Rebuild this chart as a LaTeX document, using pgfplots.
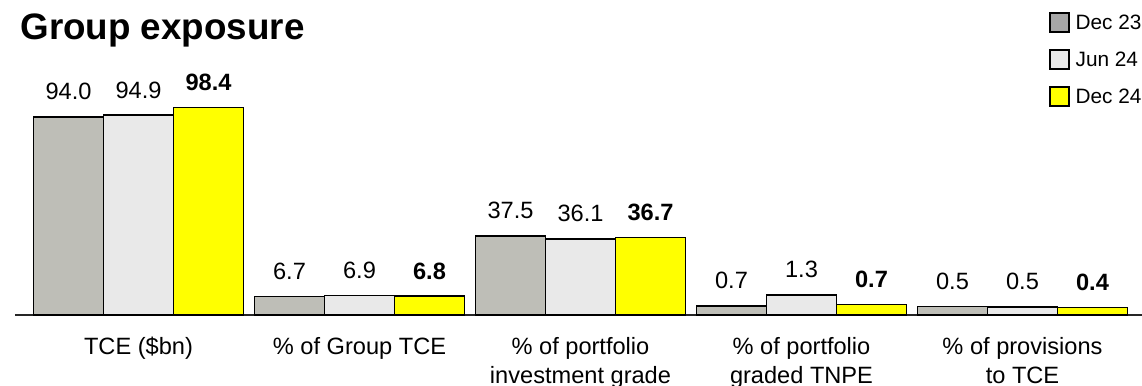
\documentclass[border=0pt]{standalone}
\usepackage{pgfplots}
\pgfplotsset{compat=1.18}
\usepackage{pgfplotstable}
\usepackage{fontspec}
\setmainfont{Liberation Sans}

\definecolor{decA}{RGB}{190,190,183}
\definecolor{junB}{RGB}{233,233,233}
\definecolor{decC}{RGB}{255,255,0}
\definecolor{legA}{RGB}{166,166,166}

% h = bar height as drawn, l = printed value
\pgfplotstableread{
x h1 l1 h2 l2 h3 l3
0 94.0 94.0 94.9 94.9 98.4 98.4
1 8.7 6.7 9.2 6.9 8.9 6.8
2 37.5 37.5 36.1 36.1 36.7 36.7
3 4.4 0.7 9.5 1.3 4.9 0.7
4 4.1 0.5 3.8 0.5 3.5 0.4
}\exposure

\begin{document}
\begin{tikzpicture}
\begin{axis}[
    name=ax,
    scale only axis,
    width=563.5pt, height=157.5pt,
    xmin=-0.5588, xmax=4.5407,
    ymin=0, ymax=149.5,
    enlargelimits=false,
    clip=false,
    ybar=0pt, bar width=35pt,
    axis x line=bottom,
    x axis line style={-, line width=0.6pt, color=black!85},
    hide y axis,
    xtick={0,1,2,3,4},
    xticklabels={{TCE (\$bn)},{\% of Group TCE},{\% of portfolio\\investment grade},{\% of portfolio\\graded TNPE},{\% of provisions\\to TCE}},
    major tick length=0pt,
    xticklabel style={align=center, anchor=north, inner sep=0pt,
        font=\fontsize{11.8}{14.5}\selectfont, yshift=-10.9pt},
    nodes near coords,
    point meta=explicit symbolic,
    every node near coord/.append style={font=\fontsize{11.8}{14}\selectfont,
        anchor=south, inner sep=0pt, yshift=8pt},
    legend cell align=left,
    legend style={at={(axis description cs:0.9175,0.9619)}, anchor=north west,
        draw=none, fill=none, inner sep=0pt, outer sep=0pt,
        row sep=8.25pt, column sep=3pt,
        font=\fontsize{10.4}{12}\selectfont,
        nodes={inner sep=0pt, text depth=0pt}},
]
\addplot[fill=decA, draw=black, line width=0.8pt,
    legend image code/.code={\draw[black, line width=0.8pt, fill=legA] (0pt,-4.8pt) rectangle (9.5pt,4.7pt);}]
    table[x=x, y=h1, meta=l1] {\exposure};
\addlegendentry{Dec 23}
\addplot[fill=junB, draw=black, line width=0.8pt,
    legend image code/.code={\draw[black, line width=0.8pt, fill=junB] (0pt,-4.8pt) rectangle (9.5pt,4.7pt);}]
    table[x=x, y=h2, meta=l2] {\exposure};
\addlegendentry{Jun 24}
\addplot[fill=decC, draw=black, line width=0.8pt,
    every node near coord/.append style={font=\fontsize{11.8}{14}\selectfont\bfseries},
    legend image code/.code={\draw[black, line width=0.8pt, fill=decC] (0pt,-4.8pt) rectangle (9.5pt,4.7pt);}]
    table[x=x, y=h3, meta=l3] {\exposure};
\addlegendentry{Dec 24}
\end{axis}
\node[anchor=base west, inner sep=0pt, font=\fontsize{18.4}{22}\selectfont\bfseries]
    at ([xshift=2.5pt,yshift=137.85pt]ax.south west) {Group exposure};
\pgfresetboundingbox
\path[use as bounding box] ([xshift=-7.5pt,yshift=-35.5pt]ax.south west)
    rectangle ([xshift=563.5pt,yshift=157.5pt]ax.south west);
\end{tikzpicture}
\end{document}
